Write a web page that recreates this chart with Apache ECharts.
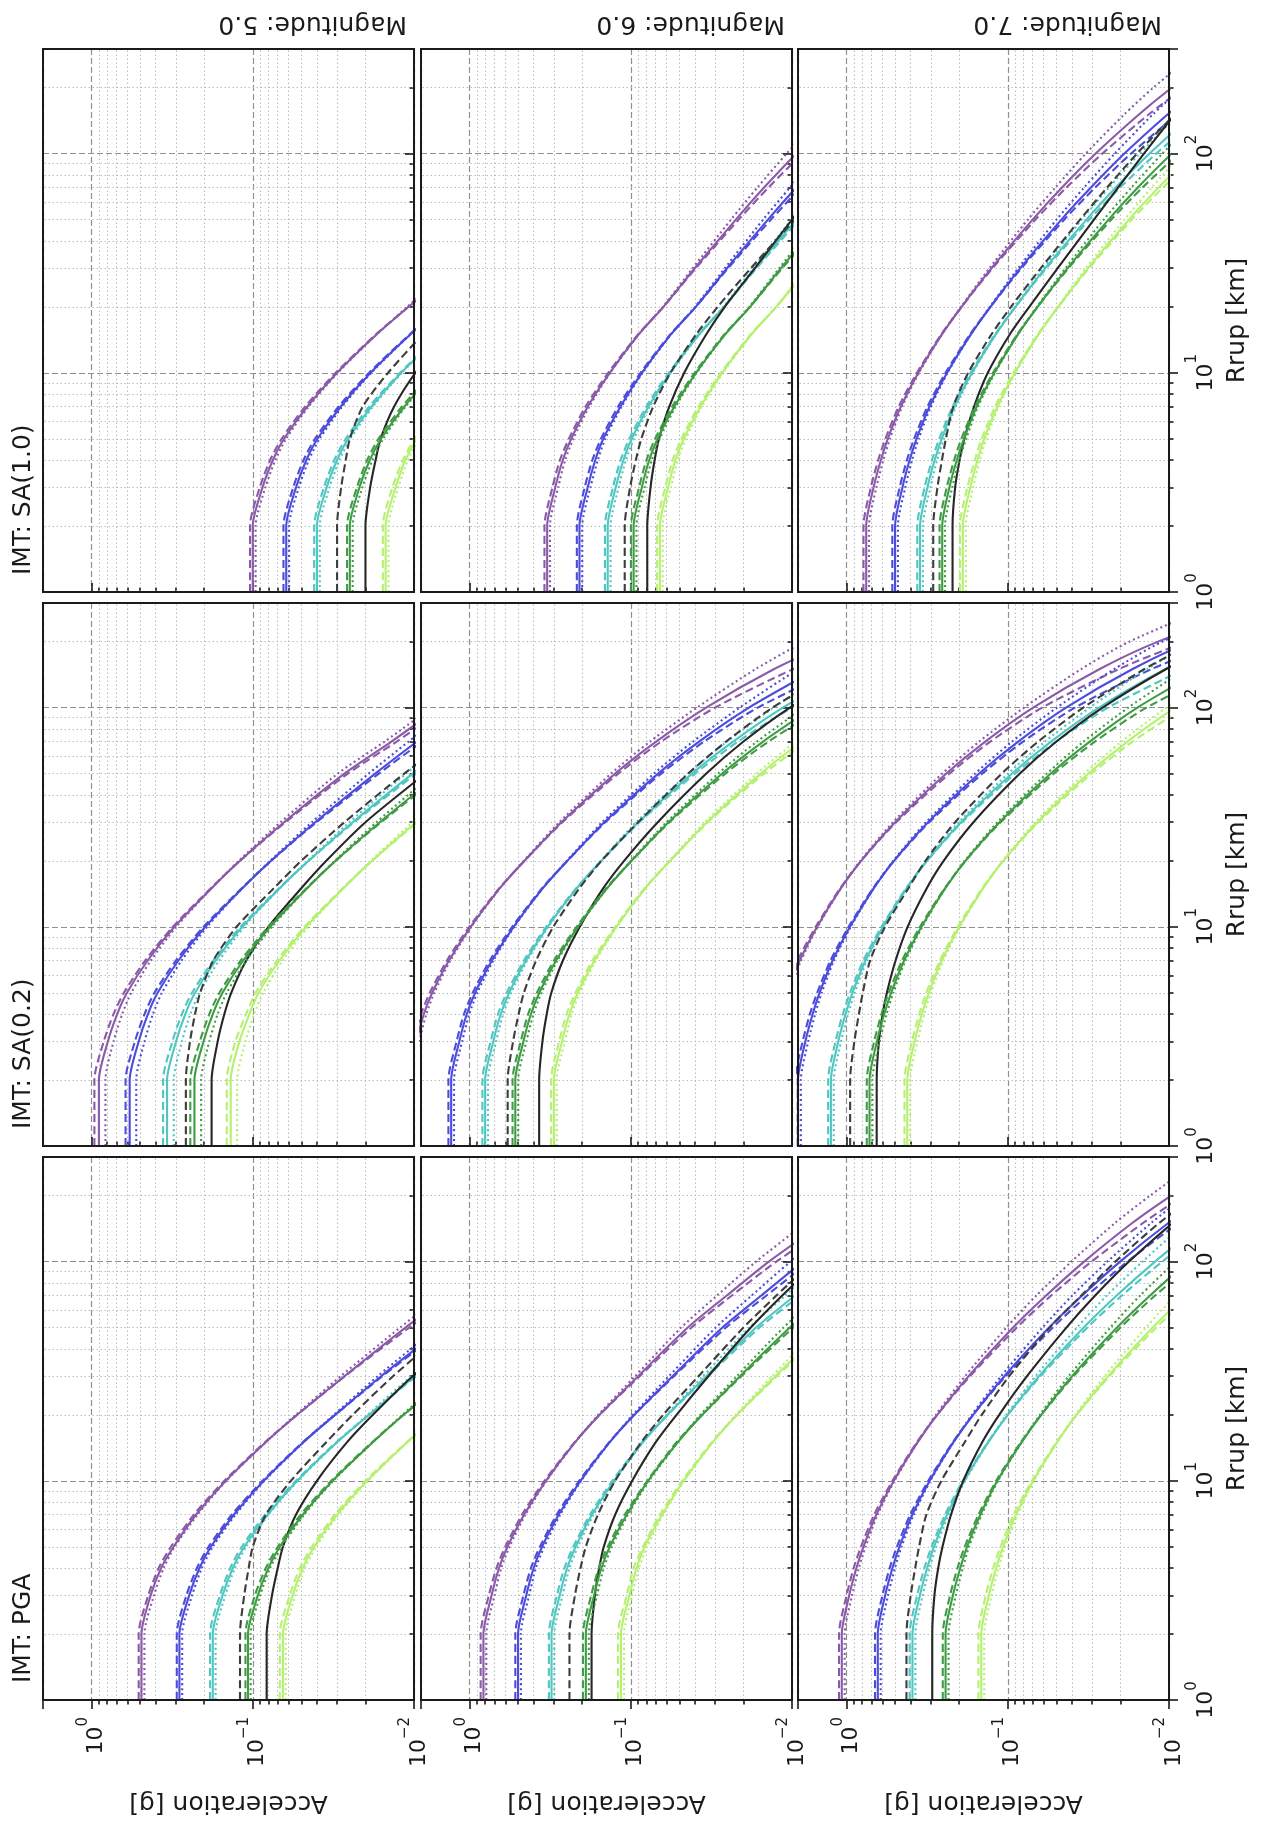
<!DOCTYPE html>
<html>
<head>
<meta charset="utf-8">
<script src="https://cdn.jsdelivr.net/npm/echarts@6/dist/echarts.min.js"></script>
<style>
  html, body { margin: 0; padding: 0; background: #ffffff; }
  #chart { width: 1267px; height: 1821px; }
</style>
</head>
<body>
<div id="chart"></div>
<script>
// Rupture distances (km) at which every curve is sampled
const rrup = [1, 2, 3, 4, 5, 7, 10, 15, 20, 30, 50, 70, 100, 150, 200, 300];

const magnitudeLabels = ['Magnitude: 5.0', 'Magnitude: 6.0', 'Magnitude: 7.0'];
const imtLabels = ['IMT: SA(1.0)', 'IMT: SA(0.2)', 'IMT: PGA'];

// Tick values
const accelMinor = [0.02, 0.03, 0.04, 0.05, 0.06, 0.07, 0.08, 0.09, 0.2, 0.3, 0.4, 0.5, 0.6, 0.7, 0.8, 0.9];
const rrupMinor = [2, 3, 4, 5, 6, 7, 8, 9, 20, 30, 40, 50, 60, 70, 80, 90, 200];

// Curve order inside each panel array:
// purple (solid, dashed, dotted), blue (3), cyan (3), black solid, black dashed, green (3), light green (3)
const curveColor = ['#8a5aa8', '#8a5aa8', '#8a5aa8', '#4b4bdc', '#4b4bdc', '#4b4bdc',
  '#4fc6c1', '#4fc6c1', '#4fc6c1', '#262626', '#3d3d3d',
  '#3f9c44', '#3f9c44', '#3f9c44', '#b6f070', '#b6f070', '#b6f070'];
const curveDash = ['solid', 'dashed', 'dotted', 'solid', 'dashed', 'dotted',
  'solid', 'dashed', 'dotted', 'solid', 'dashed',
  'solid', 'dashed', 'dotted', 'solid', 'dashed', 'dotted'];

// Acceleration [g] vs rrup, PGA
const pgaM5 = [
  [0.49, 0.49, 0.43, 0.37, 0.31, 0.225, 0.147, 0.083, 0.053, 0.027, 0.0113, 0.0061],
  [0.51, 0.51, 0.445, 0.383, 0.322, 0.232, 0.15, 0.084, 0.053, 0.0268, 0.0107, 0.0056],
  [0.47, 0.47, 0.41, 0.357, 0.305, 0.22, 0.146, 0.083, 0.054, 0.0285, 0.0122, 0.0068],
  [0.285, 0.285, 0.248, 0.214, 0.182, 0.131, 0.0855, 0.0485, 0.0308, 0.016, 0.0066],
  [0.296, 0.296, 0.258, 0.222, 0.188, 0.135, 0.087, 0.049, 0.0308, 0.0157, 0.0063],
  [0.274, 0.274, 0.238, 0.207, 0.177, 0.128, 0.0846, 0.0485, 0.0314, 0.0168, 0.0072],
  [0.177, 0.177, 0.154, 0.133, 0.113, 0.081, 0.053, 0.030, 0.019, 0.0099, 0.0041],
  [0.184, 0.184, 0.16, 0.138, 0.117, 0.084, 0.054, 0.0303, 0.019, 0.0097, 0.004],
  [0.17, 0.17, 0.148, 0.129, 0.11, 0.08, 0.0525, 0.03, 0.0194, 0.0104, 0.0044],
  [0.082, 0.082, 0.076, 0.07, 0.065, 0.054, 0.04, 0.026, 0.018, 0.0102, 0.0044],
  [0.12, 0.12, 0.113, 0.106, 0.1, 0.083, 0.058, 0.035, 0.024, 0.0135, 0.006],
  [0.107, 0.107, 0.093, 0.080, 0.068, 0.049, 0.032, 0.018, 0.0116, 0.006],
  [0.111, 0.111, 0.097, 0.083, 0.070, 0.0505, 0.0326, 0.0182, 0.0116, 0.0059],
  [0.103, 0.103, 0.09, 0.078, 0.066, 0.048, 0.0317, 0.018, 0.0118, 0.0063],
  [0.065, 0.065, 0.0566, 0.049, 0.0416, 0.030, 0.0195, 0.011, 0.007],
  [0.068, 0.068, 0.059, 0.051, 0.043, 0.031, 0.02, 0.0111, 0.007],
  [0.0625, 0.0625, 0.0545, 0.0475, 0.0404, 0.0294, 0.0193, 0.011, 0.0071]
];
const pgaM6 = [
  [0.82, 0.82, 0.73, 0.656, 0.582, 0.459, 0.336, 0.221, 0.156, 0.090, 0.0443, 0.0254, 0.0139, 0.0064],
  [0.853, 0.853, 0.759, 0.68, 0.6, 0.473, 0.343, 0.223, 0.156, 0.088, 0.042, 0.0236, 0.0125, 0.0055],
  [0.787, 0.787, 0.70, 0.636, 0.565, 0.45, 0.333, 0.221, 0.159, 0.094, 0.0487, 0.0292, 0.0167, 0.0082, 0.0048],
  [0.50, 0.50, 0.445, 0.40, 0.355, 0.28, 0.205, 0.135, 0.095, 0.055, 0.027, 0.0155, 0.0085, 0.0039],
  [0.52, 0.52, 0.463, 0.416, 0.366, 0.288, 0.209, 0.136, 0.095, 0.054, 0.0257, 0.0144, 0.0077, 0.0034],
  [0.48, 0.48, 0.427, 0.388, 0.344, 0.274, 0.203, 0.135, 0.097, 0.058, 0.0297, 0.0178, 0.0102, 0.005],
  [0.31, 0.31, 0.276, 0.248, 0.22, 0.174, 0.127, 0.084, 0.059, 0.034, 0.0167, 0.0096, 0.0053],
  [0.322, 0.322, 0.287, 0.258, 0.227, 0.179, 0.13, 0.085, 0.059, 0.0333, 0.0159, 0.0089, 0.0048],
  [0.298, 0.298, 0.265, 0.24, 0.213, 0.17, 0.126, 0.084, 0.06, 0.0357, 0.0184, 0.011, 0.0064],
  [0.175, 0.175, 0.167, 0.157, 0.147, 0.125, 0.098, 0.07, 0.052, 0.033, 0.018, 0.0115, 0.0069],
  [0.24, 0.24, 0.222, 0.205, 0.19, 0.16, 0.125, 0.086, 0.063, 0.038, 0.02, 0.0125, 0.0074],
  [0.19, 0.19, 0.169, 0.152, 0.135, 0.106, 0.078, 0.051, 0.036, 0.021, 0.0103, 0.0059],
  [0.198, 0.198, 0.176, 0.158, 0.139, 0.109, 0.079, 0.052, 0.036, 0.0206, 0.0098, 0.0055],
  [0.182, 0.182, 0.162, 0.147, 0.131, 0.104, 0.077, 0.051, 0.037, 0.022, 0.0113, 0.0068],
  [0.115, 0.115, 0.102, 0.092, 0.082, 0.064, 0.047, 0.031, 0.0219, 0.0127, 0.0062],
  [0.12, 0.12, 0.106, 0.096, 0.084, 0.066, 0.048, 0.0314, 0.0219, 0.0124, 0.0059],
  [0.11, 0.11, 0.098, 0.089, 0.079, 0.063, 0.0466, 0.031, 0.0223, 0.0133, 0.0068]
];
const pgaM7 = [
  [1.07, 1.07, 0.963, 0.868, 0.786, 0.654, 0.509, 0.362, 0.274, 0.175, 0.0927, 0.0578, 0.0336, 0.0169, 0.0097, 0.0042],
  [1.113, 1.113, 1.0, 0.903, 0.814, 0.674, 0.519, 0.366, 0.274, 0.1715, 0.088, 0.0538, 0.0302, 0.0145, 0.0081, 0.0033],
  [1.027, 1.027, 0.924, 0.838, 0.762, 0.641, 0.504, 0.362, 0.279, 0.184, 0.102, 0.0665, 0.0403, 0.0216, 0.0131, 0.0061],
  [0.64, 0.64, 0.576, 0.519, 0.470, 0.391, 0.305, 0.217, 0.164, 0.105, 0.0554, 0.0346, 0.0201, 0.0101, 0.0058],
  [0.666, 0.666, 0.599, 0.54, 0.487, 0.403, 0.311, 0.219, 0.164, 0.103, 0.0526, 0.0322, 0.0181, 0.0087, 0.0048],
  [0.614, 0.614, 0.553, 0.501, 0.456, 0.383, 0.302, 0.217, 0.167, 0.11, 0.0609, 0.0398, 0.0241, 0.0129, 0.0078, 0.0036],
  [0.39, 0.39, 0.351, 0.316, 0.287, 0.238, 0.186, 0.132, 0.1, 0.064, 0.0338, 0.0211, 0.0122, 0.0062],
  [0.406, 0.406, 0.365, 0.329, 0.297, 0.245, 0.19, 0.133, 0.1, 0.0627, 0.0321, 0.0196, 0.011, 0.0053],
  [0.374, 0.374, 0.337, 0.305, 0.278, 0.233, 0.184, 0.132, 0.102, 0.0672, 0.0372, 0.0243, 0.0146, 0.0079],
  [0.294, 0.294, 0.285, 0.27, 0.254, 0.225, 0.189, 0.144, 0.113, 0.076, 0.0433, 0.0287, 0.0177, 0.0095, 0.0057],
  [0.425, 0.425, 0.40, 0.375, 0.355, 0.32, 0.258, 0.185, 0.145, 0.098, 0.055, 0.035, 0.0215, 0.0115, 0.0068],
  [0.243, 0.243, 0.219, 0.197, 0.179, 0.148, 0.116, 0.082, 0.062, 0.0399, 0.021, 0.0131, 0.0076, 0.0038],
  [0.253, 0.253, 0.228, 0.205, 0.185, 0.152, 0.118, 0.083, 0.062, 0.0391, 0.02, 0.0122, 0.0068, 0.0033],
  [0.233, 0.233, 0.21, 0.19, 0.174, 0.145, 0.115, 0.082, 0.0632, 0.0419, 0.0231, 0.0151, 0.0091, 0.0049],
  [0.146, 0.146, 0.131, 0.118, 0.107, 0.089, 0.0695, 0.0494, 0.0374, 0.0239, 0.0126, 0.0079, 0.0046],
  [0.152, 0.152, 0.137, 0.123, 0.111, 0.092, 0.0709, 0.0499, 0.0374, 0.0234, 0.012, 0.0073, 0.0041],
  [0.14, 0.14, 0.126, 0.114, 0.104, 0.087, 0.0688, 0.0494, 0.0381, 0.0251, 0.0139, 0.0091, 0.0055]
];

// SA(0.2)
const sa02M5 = [
  [0.9, 0.9, 0.792, 0.693, 0.603, 0.45, 0.306, 0.18, 0.12, 0.064, 0.027, 0.0138, 0.007],
  [0.96, 0.96, 0.84, 0.73, 0.63, 0.466, 0.313, 0.182, 0.12, 0.0627, 0.0257, 0.0128, 0.0064],
  [0.82, 0.82, 0.73, 0.645, 0.567, 0.43, 0.298, 0.18, 0.122, 0.0672, 0.0297, 0.0152, 0.0078],
  [0.58, 0.58, 0.51, 0.447, 0.389, 0.29, 0.197, 0.116, 0.077, 0.041, 0.0174, 0.0096, 0.005],
  [0.615, 0.615, 0.538, 0.469, 0.407, 0.3, 0.202, 0.117, 0.077, 0.0402, 0.0165, 0.0089, 0.0046],
  [0.528, 0.528, 0.469, 0.416, 0.366, 0.277, 0.192, 0.116, 0.078, 0.043, 0.0191, 0.0108, 0.0058],
  [0.34, 0.34, 0.299, 0.262, 0.228, 0.17, 0.116, 0.068, 0.045, 0.024, 0.0102, 0.0056],
  [0.36, 0.36, 0.315, 0.275, 0.238, 0.176, 0.119, 0.0687, 0.045, 0.0235, 0.0097, 0.0052],
  [0.309, 0.309, 0.275, 0.244, 0.214, 0.162, 0.113, 0.068, 0.0457, 0.0252, 0.0112, 0.0063],
  [0.18, 0.18, 0.165, 0.15, 0.136, 0.11, 0.08, 0.05, 0.035, 0.02, 0.0085],
  [0.26, 0.26, 0.245, 0.228, 0.212, 0.176, 0.126, 0.074, 0.05, 0.027, 0.0115, 0.0062],
  [0.23, 0.23, 0.202, 0.177, 0.154, 0.115, 0.078, 0.046, 0.0306, 0.0163, 0.0069],
  [0.244, 0.244, 0.213, 0.186, 0.161, 0.119, 0.08, 0.0465, 0.0306, 0.016, 0.0066],
  [0.209, 0.209, 0.186, 0.165, 0.145, 0.11, 0.076, 0.046, 0.031, 0.0171, 0.0076],
  [0.137, 0.137, 0.121, 0.105, 0.092, 0.0685, 0.0466, 0.0274, 0.0182, 0.0097, 0.0041],
  [0.145, 0.145, 0.128, 0.11, 0.096, 0.0709, 0.0478, 0.0277, 0.0182, 0.0095, 0.0039],
  [0.125, 0.125, 0.111, 0.098, 0.086, 0.0654, 0.0454, 0.0274, 0.0185, 0.0102, 0.0045]
];
const sa02M6 = [
  [2.4, 2.4, 2.136, 1.92, 1.704, 1.344, 0.984, 0.648, 0.456, 0.2693, 0.125, 0.0696, 0.0341, 0.0129, 0.0056],
  [2.5, 2.5, 2.221, 1.997, 1.764, 1.384, 1.004, 0.654, 0.456, 0.2653, 0.1194, 0.0647, 0.03, 0.0098, 0.0037],
  [2.3, 2.3, 2.051, 1.853, 1.653, 1.317, 0.974, 0.648, 0.4606, 0.2774, 0.1325, 0.0759, 0.0389, 0.0168, 0.0084],
  [1.3, 1.3, 1.157, 1.04, 0.923, 0.728, 0.533, 0.351, 0.247, 0.1459, 0.0677, 0.0377, 0.0185, 0.007],
  [1.352, 1.352, 1.203, 1.082, 0.955, 0.75, 0.544, 0.355, 0.247, 0.1437, 0.0647, 0.0351, 0.0163, 0.0053],
  [1.248, 1.248, 1.111, 1.004, 0.895, 0.713, 0.528, 0.351, 0.2495, 0.1503, 0.0718, 0.0411, 0.0211, 0.0091, 0.0045],
  [0.8, 0.8, 0.712, 0.64, 0.568, 0.448, 0.328, 0.216, 0.152, 0.0898, 0.0417, 0.0232, 0.0114, 0.0043],
  [0.832, 0.832, 0.74, 0.666, 0.588, 0.461, 0.335, 0.218, 0.152, 0.0884, 0.0398, 0.0216, 0.01, 0.0033],
  [0.768, 0.768, 0.684, 0.618, 0.551, 0.439, 0.325, 0.216, 0.1535, 0.0925, 0.0442, 0.0253, 0.013, 0.0056],
  [0.37, 0.37, 0.353, 0.332, 0.311, 0.264, 0.207, 0.148, 0.11, 0.068, 0.034, 0.02, 0.0103, 0.0041],
  [0.58, 0.58, 0.537, 0.496, 0.46, 0.387, 0.302, 0.208, 0.152, 0.09, 0.044, 0.0256, 0.0132, 0.0052],
  [0.52, 0.52, 0.463, 0.416, 0.369, 0.291, 0.213, 0.14, 0.0988, 0.0583, 0.0271, 0.0151, 0.0074],
  [0.541, 0.541, 0.481, 0.433, 0.382, 0.3, 0.217, 0.142, 0.0988, 0.0575, 0.0259, 0.014, 0.0065],
  [0.499, 0.499, 0.444, 0.401, 0.358, 0.285, 0.211, 0.14, 0.0998, 0.06, 0.0287, 0.0165, 0.0084],
  [0.3, 0.3, 0.267, 0.24, 0.213, 0.168, 0.123, 0.081, 0.057, 0.0337, 0.0156, 0.0087, 0.0043],
  [0.312, 0.312, 0.278, 0.25, 0.22, 0.173, 0.125, 0.082, 0.057, 0.0332, 0.0149, 0.0081],
  [0.288, 0.288, 0.256, 0.232, 0.207, 0.165, 0.122, 0.081, 0.0576, 0.0347, 0.0165, 0.0095, 0.0049]
];
const sa02M7 = [
  [3.2, 3.2, 2.88, 2.595, 2.352, 1.955, 1.523, 1.083, 0.8125, 0.4995, 0.2406, 0.1379, 0.0696, 0.0269, 0.0117, 0.0026],
  [3.33, 3.33, 3.0, 2.70, 2.434, 2.014, 1.553, 1.094, 0.8125, 0.492, 0.2298, 0.1282, 0.0612, 0.0204, 0.0077, 0.0014],
  [3.07, 3.07, 2.765, 2.504, 2.281, 1.916, 1.508, 1.083, 0.8206, 0.5145, 0.255, 0.1503, 0.0793, 0.035, 0.0176, 0.0049],
  [2.0, 2.0, 1.8, 1.622, 1.47, 1.222, 0.952, 0.677, 0.508, 0.312, 0.1504, 0.0862, 0.0435, 0.0168, 0.0073, 0.0016],
  [2.08, 2.08, 1.872, 1.687, 1.521, 1.259, 0.971, 0.684, 0.508, 0.307, 0.1436, 0.0802, 0.0383, 0.0128, 0.0048],
  [1.92, 1.92, 1.728, 1.565, 1.426, 1.198, 0.942, 0.677, 0.513, 0.321, 0.1594, 0.094, 0.0496, 0.0218, 0.011, 0.003],
  [1.25, 1.25, 1.125, 1.014, 0.919, 0.764, 0.595, 0.423, 0.317, 0.195, 0.094, 0.0539, 0.0272, 0.0105, 0.0046],
  [1.3, 1.3, 1.17, 1.054, 0.951, 0.787, 0.607, 0.427, 0.317, 0.192, 0.0898, 0.0501, 0.0239, 0.008],
  [1.2, 1.2, 1.08, 0.978, 0.891, 0.749, 0.589, 0.423, 0.32, 0.201, 0.0996, 0.0588, 0.031, 0.0137, 0.0069],
  [0.65, 0.65, 0.63, 0.597, 0.562, 0.497, 0.418, 0.318, 0.25, 0.1633, 0.0841, 0.0499, 0.0258, 0.0104, 0.0048],
  [0.95, 0.95, 0.894, 0.838, 0.793, 0.715, 0.577, 0.413, 0.324, 0.212, 0.109, 0.0647, 0.034, 0.0142, 0.0068],
  [0.72, 0.72, 0.648, 0.584, 0.529, 0.44, 0.343, 0.244, 0.183, 0.1124, 0.0541, 0.031, 0.0157, 0.0061],
  [0.749, 0.749, 0.674, 0.607, 0.548, 0.453, 0.35, 0.246, 0.183, 0.1107, 0.0517, 0.0288, 0.0138, 0.0046],
  [0.691, 0.691, 0.622, 0.564, 0.513, 0.431, 0.339, 0.244, 0.185, 0.1158, 0.0573, 0.0338, 0.0179, 0.0079],
  [0.42, 0.42, 0.378, 0.341, 0.309, 0.257, 0.2, 0.142, 0.1066, 0.0656, 0.0316, 0.0181, 0.0091, 0.0035],
  [0.437, 0.437, 0.393, 0.354, 0.32, 0.264, 0.204, 0.144, 0.1066, 0.0646, 0.0302, 0.0168, 0.008],
  [0.403, 0.403, 0.363, 0.329, 0.3, 0.251, 0.198, 0.142, 0.1077, 0.0676, 0.0335, 0.0197, 0.0104, 0.0046]
];

// SA(1.0)
const sa10M5 = [
  [0.1, 0.1, 0.087, 0.075, 0.064, 0.046, 0.03, 0.017, 0.0108, 0.0056],
  [0.104, 0.104, 0.0905, 0.078, 0.0662, 0.0474, 0.0306, 0.0172, 0.0108, 0.0055],
  [0.096, 0.096, 0.0835, 0.0724, 0.0621, 0.0451, 0.0297, 0.017, 0.011, 0.0059],
  [0.062, 0.062, 0.0539, 0.0465, 0.0397, 0.0285, 0.0186, 0.0105, 0.0067],
  [0.0645, 0.0645, 0.0561, 0.0484, 0.0411, 0.0294, 0.019, 0.0106, 0.0067],
  [0.0595, 0.0595, 0.0518, 0.0449, 0.0385, 0.0279, 0.0184, 0.0105, 0.0068],
  [0.04, 0.04, 0.0348, 0.03, 0.0256, 0.0184, 0.012, 0.0068],
  [0.0416, 0.0416, 0.0362, 0.0312, 0.0265, 0.019, 0.0122, 0.0069],
  [0.0384, 0.0384, 0.0334, 0.029, 0.0248, 0.018, 0.0119, 0.0068],
  [0.02, 0.02, 0.0187, 0.0173, 0.0161, 0.0133, 0.0098, 0.0063],
  [0.03, 0.03, 0.0283, 0.0265, 0.025, 0.0208, 0.0145, 0.0088],
  [0.025, 0.025, 0.0218, 0.0188, 0.016, 0.0115, 0.0075],
  [0.026, 0.026, 0.0226, 0.0195, 0.0166, 0.0119, 0.0077],
  [0.024, 0.024, 0.0209, 0.0181, 0.0155, 0.0113, 0.0074],
  [0.015, 0.015, 0.013, 0.0113, 0.0096, 0.0069],
  [0.0156, 0.0156, 0.0136, 0.0117, 0.0099, 0.0071],
  [0.0144, 0.0144, 0.0125, 0.0109, 0.0093, 0.0067]
];
const sa10M6 = [
  [0.33, 0.33, 0.294, 0.264, 0.234, 0.185, 0.135, 0.089, 0.0627, 0.0401, 0.0223, 0.0149, 0.0094, 0.0053],
  [0.343, 0.343, 0.306, 0.275, 0.242, 0.191, 0.138, 0.0899, 0.0627, 0.0395, 0.0214, 0.014, 0.0086, 0.0046],
  [0.317, 0.317, 0.282, 0.255, 0.227, 0.181, 0.134, 0.089, 0.0633, 0.0413, 0.0239, 0.0164, 0.0108, 0.0065],
  [0.208, 0.208, 0.185, 0.166, 0.148, 0.116, 0.0853, 0.0562, 0.0395, 0.0253, 0.0141, 0.0094, 0.0059],
  [0.216, 0.216, 0.193, 0.173, 0.153, 0.12, 0.087, 0.0567, 0.0395, 0.0249, 0.0135, 0.0088, 0.0054],
  [0.2, 0.2, 0.178, 0.16, 0.144, 0.114, 0.0844, 0.0562, 0.0399, 0.0261, 0.0151, 0.0103, 0.0068],
  [0.139, 0.139, 0.124, 0.111, 0.0987, 0.0778, 0.057, 0.0375, 0.0264, 0.0169, 0.0094, 0.0063],
  [0.1446, 0.1446, 0.129, 0.1155, 0.1021, 0.0802, 0.0581, 0.0379, 0.0264, 0.0166, 0.009],
  [0.1334, 0.1334, 0.119, 0.1071, 0.0957, 0.0763, 0.0564, 0.0375, 0.0267, 0.0174, 0.0101, 0.0069],
  [0.079, 0.079, 0.0754, 0.0711, 0.0668, 0.0577, 0.0466, 0.034, 0.0261, 0.017, 0.01, 0.007],
  [0.109, 0.109, 0.101, 0.093, 0.086, 0.0727, 0.0567, 0.0392, 0.0289, 0.018, 0.0096, 0.0062],
  [0.096, 0.096, 0.0854, 0.0768, 0.0682, 0.0538, 0.0394, 0.0259, 0.0182, 0.0117, 0.0065],
  [0.0998, 0.0998, 0.0888, 0.0799, 0.0706, 0.0554, 0.0402, 0.0262, 0.0182, 0.0115, 0.0062],
  [0.0922, 0.0922, 0.082, 0.0741, 0.0662, 0.0527, 0.039, 0.0259, 0.0184, 0.012, 0.007],
  [0.066, 0.066, 0.0587, 0.0528, 0.0469, 0.037, 0.0271, 0.0178, 0.0125, 0.008],
  [0.0686, 0.0686, 0.0611, 0.0549, 0.0485, 0.0381, 0.0276, 0.018, 0.0125, 0.0079],
  [0.0634, 0.0634, 0.0564, 0.051, 0.0455, 0.0363, 0.0268, 0.0178, 0.0126, 0.0082]
];
const sa10M7 = [
  [0.755, 0.755, 0.68, 0.612, 0.555, 0.461, 0.359, 0.2556, 0.1933, 0.1262, 0.0701, 0.0461, 0.0285, 0.0155, 0.0096, 0.0046],
  [0.785, 0.785, 0.707, 0.636, 0.574, 0.475, 0.366, 0.258, 0.1933, 0.1243, 0.0673, 0.0433, 0.0259, 0.0135, 0.008, 0.0036],
  [0.725, 0.725, 0.653, 0.591, 0.538, 0.452, 0.355, 0.2556, 0.1952, 0.13, 0.075, 0.0507, 0.0328, 0.0191, 0.0125, 0.0064],
  [0.5, 0.5, 0.45, 0.406, 0.368, 0.306, 0.238, 0.169, 0.128, 0.0836, 0.0465, 0.0305, 0.0189, 0.0103, 0.0064],
  [0.52, 0.52, 0.468, 0.422, 0.381, 0.315, 0.243, 0.171, 0.128, 0.0823, 0.0446, 0.0287, 0.0172, 0.009],
  [0.48, 0.48, 0.432, 0.392, 0.357, 0.3, 0.236, 0.169, 0.1293, 0.0861, 0.0498, 0.0336, 0.0217, 0.0127, 0.0083, 0.0043],
  [0.35, 0.35, 0.315, 0.284, 0.257, 0.214, 0.1666, 0.1185, 0.0896, 0.0585, 0.0325, 0.0214, 0.0132, 0.0072],
  [0.364, 0.364, 0.328, 0.295, 0.266, 0.22, 0.17, 0.1197, 0.0896, 0.0576, 0.0312, 0.0201, 0.012, 0.0063],
  [0.336, 0.336, 0.302, 0.274, 0.249, 0.21, 0.165, 0.1185, 0.0905, 0.0603, 0.0348, 0.0235, 0.0152, 0.0088],
  [0.22, 0.22, 0.212, 0.199, 0.186, 0.162, 0.133, 0.097, 0.0735, 0.049, 0.0292, 0.0207, 0.0143, 0.0093],
  [0.29, 0.29, 0.273, 0.256, 0.242, 0.218, 0.176, 0.126, 0.0955, 0.0624, 0.0356, 0.0242, 0.0158, 0.0093],
  [0.255, 0.255, 0.23, 0.207, 0.187, 0.156, 0.121, 0.0863, 0.0653, 0.0426, 0.0237, 0.0156, 0.0096, 0.0052],
  [0.265, 0.265, 0.239, 0.215, 0.194, 0.16, 0.1235, 0.0872, 0.0653, 0.042, 0.0228, 0.0146, 0.0087],
  [0.245, 0.245, 0.221, 0.2, 0.181, 0.153, 0.12, 0.0863, 0.066, 0.0439, 0.0254, 0.0171, 0.011, 0.0064],
  [0.19, 0.19, 0.171, 0.154, 0.14, 0.116, 0.0904, 0.0643, 0.0486, 0.0318, 0.0177, 0.0116, 0.0072],
  [0.198, 0.198, 0.178, 0.16, 0.145, 0.12, 0.0922, 0.065, 0.0486, 0.0313, 0.017, 0.0109, 0.0065],
  [0.182, 0.182, 0.164, 0.149, 0.136, 0.114, 0.0895, 0.0643, 0.0491, 0.0328, 0.0189, 0.0128, 0.0083]
];

// Panels: rows = IMT (top to bottom), columns = magnitude (left to right)
const panelData = [
  [sa10M5, sa10M6, sa10M7],
  [sa02M5, sa02M6, sa02M7],
  [pgaM5, pgaM6, pgaM7]
];

// ---- layout ----
const FONT = 'DejaVu Sans';
const INK = '#1a1a1a';
const colLeft = [43, 421, 798];
const panelW = 371;
const rowTop = [49, 603, 1157];
const panelH = 543;
const ACC_MIN = 0.01, ACC_MAX = 2;
const R_MIN = 1, R_MAX = 300;

const dashPattern = { solid: 'solid', dashed: [8, 4], dotted: [2, 3] };

function powerLabel(v) {
  const lg = Math.log10(v);
  const e = Math.round(lg);
  if (Math.abs(lg - e) > 1e-6) return '';
  const exp = e < 0 ? '\u2212' + (-e) : String(e);
  return '{b|10}{s|' + exp + '}';
}
const tickRich = {
  b: { fontFamily: FONT, fontSize: 22, color: INK, lineHeight: 32, verticalAlign: 'bottom' },
  s: { fontFamily: FONT, fontSize: 15, color: INK, lineHeight: 18, verticalAlign: 'top' }
};
const tickLine = { color: INK, width: 1.6 };
const majorGrid = { color: '#8f8f8f', width: 1.2, type: [6, 3] };
const minorGrid = { color: '#bdbdbd', width: 1.1, type: [1.5, 2.5] };

const grids = [], xAxes = [], yAxes = [], series = [];

for (let r = 0; r < 3; r++) {
  for (let c = 0; c < 3; c++) {
    const p = grids.length;
    const bottomRow = r === 2;
    const rightCol = c === 2;
    grids.push({
      left: colLeft[c], top: rowTop[r], width: panelW, height: panelH,
      show: true, borderColor: INK, borderWidth: 2, z: 4
    });
    // acceleration axis (log, decreasing to the right)
    xAxes.push({
      type: 'log', logBase: 10, gridIndex: p, min: ACC_MIN, max: ACC_MAX, inverse: true,
      position: 'bottom',
      axisLine: { show: false, onZero: false },
      axisTick: { show: true, inside: !bottomRow, length: 9, lineStyle: tickLine },
      axisLabel: { show: bottomRow, rotate: 90, margin: 17, formatter: powerLabel, rich: tickRich },
      splitLine: { show: true, lineStyle: majorGrid }
    });
    // minor ticks of the acceleration axis
    xAxes.push({
      type: 'value', gridIndex: p, min: Math.log10(ACC_MIN), max: Math.log10(ACC_MAX), inverse: true,
      position: 'bottom',
      axisLine: { show: false, onZero: false },
      axisTick: { show: true, inside: !bottomRow, length: 4.5, lineStyle: tickLine,
        customValues: accelMinor.map(Math.log10) },
      axisLabel: { show: false },
      splitLine: { show: false }
    });
    // rupture distance axis (log)
    yAxes.push({
      type: 'log', logBase: 10, gridIndex: p, min: R_MIN, max: R_MAX,
      position: 'right',
      axisLine: { show: false, onZero: false },
      axisTick: { show: true, inside: !rightCol, length: 9, lineStyle: tickLine },
      axisLabel: { show: rightCol, rotate: 90, margin: 16, formatter: powerLabel, rich: tickRich },
      splitLine: { show: true, lineStyle: majorGrid }
    });
    yAxes.push({
      type: 'value', gridIndex: p, min: Math.log10(R_MIN), max: Math.log10(R_MAX),
      position: 'right',
      axisLine: { show: false, onZero: false },
      axisTick: { show: true, inside: !rightCol, length: 4.5, lineStyle: tickLine,
        customValues: rrupMinor.map(Math.log10) },
      axisLabel: { show: false },
      splitLine: { show: false }
    });

    const curves = panelData[r][c];
    curves.forEach((vals, k) => {
      const s = {
        type: 'line',
        xAxisIndex: 2 * p, yAxisIndex: 2 * p,
        data: vals.map((a, i) => [a, rrup[i]]),
        showSymbol: false, symbol: 'none',
        smooth: 0.25,
        clip: true, silent: true, animation: false,
        lineStyle: { color: curveColor[k], width: 2.1, type: dashPattern[curveDash[k]] },
        z: 2
      };
      if (k === 0) {
        s.markLine = {
          silent: true, symbol: ['none', 'none'], animation: false, z: 1,
          label: { show: false },
          lineStyle: minorGrid,
          emphasis: { disabled: true },
          data: accelMinor.map(v => ({ xAxis: v })).concat(rrupMinor.map(v => ({ yAxis: v })))
        };
      }
      series.push(s);
    });
  }
}

// titles and axis names
const textStyle = (text, size) => ({
  text, fontFamily: FONT, fontSize: size, fill: INK
});
const graphics = [];
for (let c = 0; c < 3; c++) {
  graphics.push({
    type: 'text', x: colLeft[c] + panelW - 7, y: 23, rotation: Math.PI,
    style: Object.assign(textStyle(magnitudeLabels[c], 25), { align: 'left', textAlign: 'left', verticalAlign: 'middle', textVerticalAlign: 'middle' })
  });
  graphics.push({
    type: 'text', x: colLeft[c] + panelW / 2, y: 1802, rotation: Math.PI,
    style: Object.assign(textStyle('Acceleration [g]', 25), { align: 'center', textAlign: 'center', verticalAlign: 'middle', textVerticalAlign: 'middle' })
  });
}
for (let r = 0; r < 3; r++) {
  graphics.push({
    type: 'text', x: 23, y: rowTop[r] + panelH - 17, rotation: Math.PI / 2,
    style: Object.assign(textStyle(imtLabels[r], 25), { align: 'left', textAlign: 'left', verticalAlign: 'middle', textVerticalAlign: 'middle' })
  });
  graphics.push({
    type: 'text', x: 1237, y: rowTop[r] + panelH / 2, rotation: Math.PI / 2,
    style: Object.assign(textStyle('Rrup [km]', 25), { align: 'center', textAlign: 'center', verticalAlign: 'middle', textVerticalAlign: 'middle' })
  });
}

const chart = echarts.init(document.getElementById('chart'), null, { renderer: 'canvas' });
chart.setOption({
  backgroundColor: '#ffffff',
  animation: false,
  textStyle: { fontFamily: FONT },
  grid: grids,
  xAxis: xAxes,
  yAxis: yAxes,
  series: series,
  graphic: { elements: graphics }
});
</script>
</body>
</html>
